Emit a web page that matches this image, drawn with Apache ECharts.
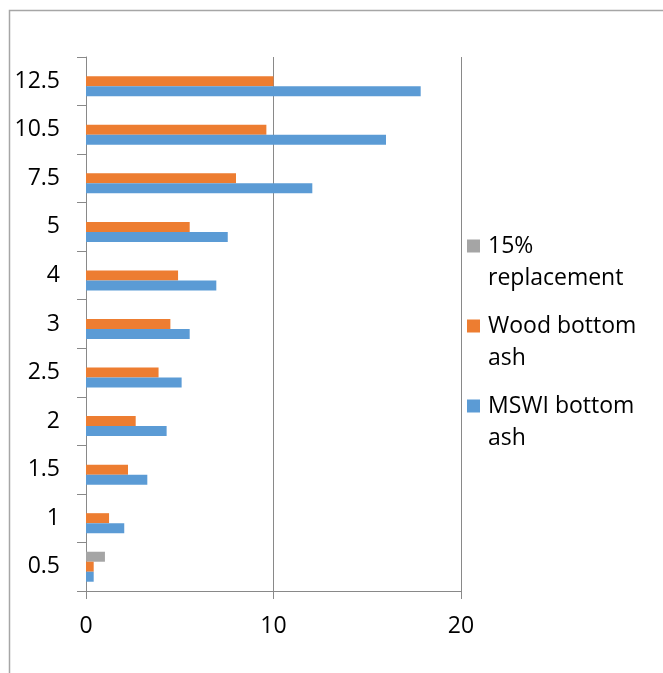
<!DOCTYPE html>
<html>
<head>
<meta charset="utf-8">
<script src="https://cdn.jsdelivr.net/npm/echarts@6/dist/echarts.min.js"></script>
<style>
  html, body { margin: 0; padding: 0; background: #fff; }
  #chart { width: 663px; height: 673px; }
</style>
</head>
<body>
<div id="chart"></div>
<script>
// Categories, bottom to top
const categories = ['0.5', '1', '1.5', '2', '2.5', '3', '4', '5', '7.5', '10.5', '12.5'];

// Series values per category
const mswiBottomAsh = [0.41, 2.04, 3.27, 4.3, 5.1, 5.53, 6.95, 7.56, 12.07, 16.0, 17.85];
const woodBottomAsh = [0.41, 1.23, 2.24, 2.65, 3.87, 4.5, 4.91, 5.53, 8.0, 9.62, 10.0];
const replacement15 = [1.01, null, null, null, null, null, null, null, null, null, null];

const seriesNames = ['15% replacement', 'Wood bottom ash', 'MSWI bottom ash'];
// Legend text: a blank first line keeps the square beside the first text line
const legendLabels = {
  '15% replacement': '\n15%\nreplacement',
  'Wood bottom ash': '\nWood bottom\nash',
  'MSWI bottom ash': '\nMSWI bottom\nash'
};

const FONT = '"Open Sans", "Liberation Sans", sans-serif';
const AXIS_GREY = '#898989';

const chart = echarts.init(document.getElementById('chart'), null, { renderer: 'canvas' });

chart.setOption({
  animation: false,
  backgroundColor: '#ffffff',
  textStyle: { fontFamily: FONT },
  grid: { left: 86, right: 202, top: 57, bottom: 82, containLabel: false },
  graphic: [{
    type: 'rect',
    left: 7, top: 8,
    shape: { width: 720, height: 720 },
    style: { fill: 'none', stroke: '#a6a6a6', lineWidth: 1.5 },
    silent: true
  }],
  legend: {
    orient: 'vertical',
    left: 467,
    top: 198,
    padding: 0,
    itemGap: -16,
    itemWidth: 13,
    itemHeight: 13,
    icon: 'rect',
    data: seriesNames,
    formatter: name => legendLabels[name],
    textStyle: {
      fontFamily: FONT,
      fontSize: 23,
      color: '#000',
      lineHeight: 32,
      padding: [0, 0, 0, 3]
    }
  },
  xAxis: {
    type: 'value',
    min: 0,
    max: 20,
    interval: 10,
    axisLine: { show: true, lineStyle: { color: AXIS_GREY, width: 1 } },
    axisTick: { show: true, length: 8, lineStyle: { color: AXIS_GREY } },
    splitLine: { show: true, lineStyle: { color: AXIS_GREY, width: 1 } },
    axisLabel: { fontFamily: FONT, fontSize: 23, color: '#000', margin: 24 }
  },
  yAxis: {
    type: 'category',
    data: categories,
    axisLine: { show: true, lineStyle: { color: AXIS_GREY, width: 1 } },
    axisTick: { show: true, length: 9, lineStyle: { color: AXIS_GREY } },
    axisLabel: { fontFamily: FONT, fontSize: 23, color: '#000', margin: 26, padding: [7, 0, 0, 0] }
  },
  series: [
    {
      name: seriesNames[0], type: 'bar', data: replacement15,
      barWidth: 10, barGap: '0%',
      itemStyle: { color: '#A5A5A5' }
    },
    {
      name: seriesNames[1], type: 'bar', data: woodBottomAsh,
      barWidth: 10, barGap: '0%',
      itemStyle: { color: '#ED7D31' }
    },
    {
      name: seriesNames[2], type: 'bar', data: mswiBottomAsh,
      barWidth: 10, barGap: '0%',
      itemStyle: { color: '#5B9BD5' }
    }
  ]
});
</script>
</body>
</html>
